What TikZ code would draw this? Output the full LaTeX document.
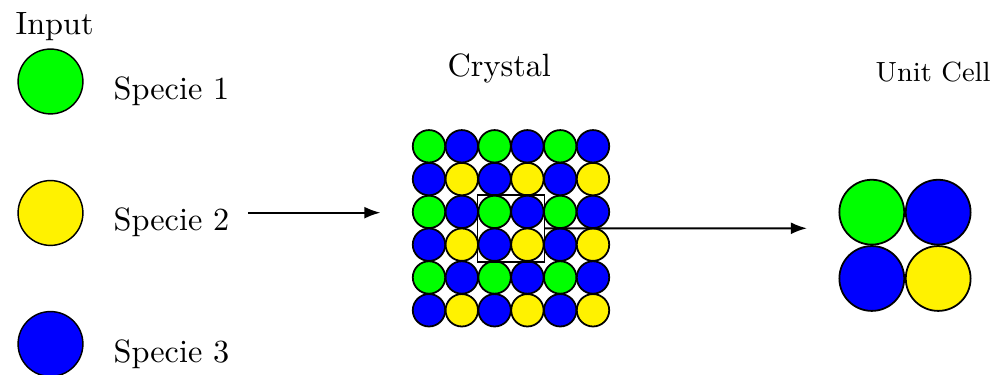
\documentclass[tikz,border=0pt]{standalone}
\usetikzlibrary{arrows.meta,fit}
\begin{document}
\begin{tikzpicture}[x=0.31pt,y=-0.31pt,
  ball/.style={circle,draw=black,line width=0.45pt,inner sep=0pt,minimum size=20.1pt},
  atom/.style={circle,draw=black,line width=0.55pt,inner sep=0pt,minimum size=10.05pt},
  lbl/.style={anchor=base west,inner sep=0pt},
  arr/.style={-{Latex[length=5pt,width=3.7pt]},line width=0.6pt}]
\useasboundingbox (0,0) rectangle (995,375);
% input
\node[lbl] (input) at (15,35) {Input};
\node[ball,fill=green] (sp1) at (50.5,81.5) {};
\node[ball,fill=yellow] (sp2) at (50.5,213) {};
\node[ball,fill=blue] (sp3) at (50.5,344) {};
\node[lbl] (t1) at (113,99.3) {Specie 1};
\node[lbl] (t2) at (113,231) {Specie 2};
\node[lbl] (t3) at (113,362.7) {Specie 3};
\coordinate (a1s) at (248,212.7);
\coordinate (a1e) at (380.5,212.7);
\draw[arr] (a1s) -- (a1e);
% crystal
\node[lbl] (crys) at (447,76.7) {Crystal};
\foreach \r in {0,2,4}
  \foreach \c/\col in {0/green,1/blue,2/green,3/blue,4/green,5/blue}
    \node[atom,fill=\col] (g-\r-\c) at ({429+32.8*\c},{146.3+32.8*\r}) {};
\foreach \r in {1,3,5}
  \foreach \c/\col in {0/blue,1/yellow,2/blue,3/yellow,4/blue,5/yellow}
    \node[atom,fill=\col] (g-\r-\c) at ({429+32.8*\c},{146.3+32.8*\r}) {};
\node[draw,line width=0.45pt,inner sep=0pt,fit=(g-2-2)(g-3-3)] (box) {};
\coordinate (a2e) at (807,228.3);
\draw[arr] (box.east) -- (a2e);
% unit cell
\node[lbl,font=\fontsize{8.6}{10}\selectfont] (uct) at (875,81.7) {Unit Cell};
\node[ball,line width=0.55pt,fill=green] (u1) at (871.8,212.2) {};
\node[ball,line width=0.55pt,fill=blue] (u2) at (938.2,212.2) {};
\node[ball,line width=0.55pt,fill=blue] (u3) at (871.8,278.5) {};
\node[ball,line width=0.55pt,fill=yellow] (u4) at (938.2,278.5) {};
\end{tikzpicture}
\end{document}
